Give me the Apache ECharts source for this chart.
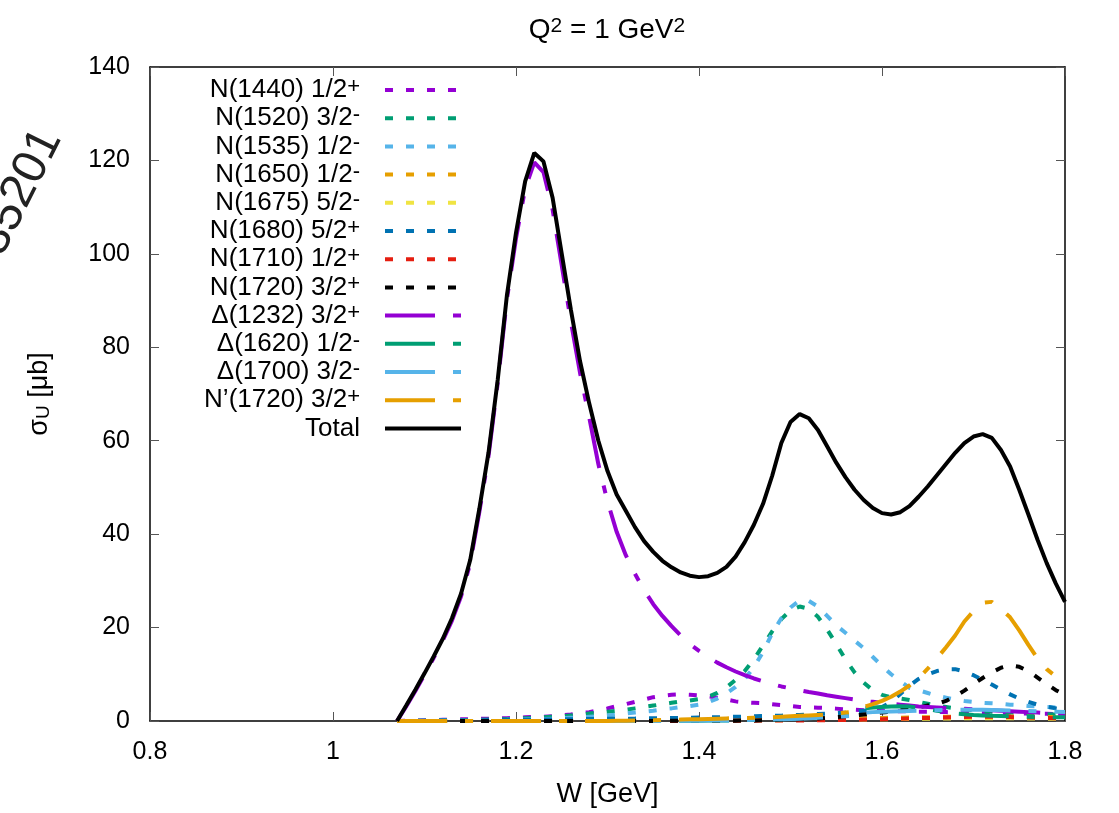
<!DOCTYPE html>
<html>
<head>
<meta charset="utf-8">
<script src="https://cdn.jsdelivr.net/npm/echarts@6/dist/echarts.min.js"></script>
<style>
  html, body { margin: 0; padding: 0; background: #fff; }
  #chart-1 { width: 1119px; height: 813px; }
</style>
</head>
<body>
<div id="chart-1"></div>
<script>
/** data **/
var W = [1.07,1.08,1.09,1.10,1.11,1.12,1.13,1.14,1.15,1.16,
  1.17,1.18,1.19,1.20,1.21,1.22,1.23,1.24,1.25,1.26,
  1.27,1.28,1.29,1.30,1.31,1.32,1.33,1.34,1.35,1.36,
  1.37,1.38,1.39,1.40,1.41,1.42,1.43,1.44,1.45,1.46,
  1.47,1.48,1.49,1.50,1.51,1.52,1.53,1.54,1.55,1.56,
  1.57,1.58,1.59,1.60,1.61,1.62,1.63,1.64,1.65,1.66,
  1.67,1.68,1.69,1.70,1.71,1.72,1.73,1.74,1.75,1.76,
  1.77,1.78,1.79,1.80];

var n1440 = [0,0.05,0.1,0.15,0.2,0.25,0.3,0.35,0.4,0.45,
  0.5,0.55,0.6,0.7,0.8,0.85,0.9,1.0,1.2,1.4,
  1.7,1.9,2.3,2.7,3.2,3.6,4.1,4.6,5.1,5.4,
  5.6,5.7,5.6,5.5,5.3,5.0,4.6,4.2,4.0,3.9,
  3.8,3.6,3.4,3.2,3.0,2.9,2.85,2.8,2.65,2.5,
  2.4,2.3,2.25,2.2,2.15,2.1,2.05,2.0,2.0,1.95,
  1.9,1.85,1.8,1.75,1.7,1.7,1.65,1.65,1.6,1.6,
  1.55,1.55,1.5,1.5];
var n1520 = [0,0.02,0.05,0.08,0.1,0.12,0.15,0.18,0.2,0.25,
  0.3,0.35,0.4,0.5,0.6,0.7,0.8,0.9,1.0,1.2,
  1.4,1.6,1.8,2.0,2.2,2.4,2.7,3.0,3.3,3.6,
  3.9,4.2,4.4,4.7,5.2,6.0,7.2,8.8,10.7,13.2,
  16.2,19.2,21.8,23.7,24.5,24.0,22.3,19.6,16.5,13.2,
  10.4,8.2,6.6,5.6,5.1,4.8,4.5,4.1,3.7,3.3,
  3.0,2.7,2.5,2.3,2.1,2.0,1.9,1.8,1.7,1.6,
  1.5,1.45,1.4,1.35];
var n1535 = [0,0.02,0.04,0.06,0.08,0.1,0.12,0.14,0.16,0.18,
  0.2,0.22,0.25,0.3,0.35,0.4,0.45,0.5,0.6,0.7,
  0.8,0.9,1.0,1.2,1.4,1.6,1.8,2.0,2.2,2.5,
  2.7,3.0,3.2,3.5,4.0,4.8,5.9,7.3,9.0,11.5,
  14.8,18.8,22.0,24.3,25.8,25.7,24.5,22.5,20.5,18.9,
  17.2,15.6,13.7,11.8,10.0,8.5,7.1,6.6,6.0,5.4,
  5.0,4.6,4.3,4.1,3.9,3.8,3.7,3.5,3.4,3.2,
  3.1,3.0,2.9,2.8];
var n1650 = [0,0,0,0,0,0,0,0.05,0.05,0.05,
  0.05,0.1,0.1,0.1,0.1,0.1,0.1,0.15,0.15,0.15,
  0.15,0.2,0.2,0.2,0.2,0.2,0.25,0.25,0.25,0.25,
  0.3,0.3,0.3,0.3,0.35,0.35,0.35,0.35,0.4,0.4,
  0.4,0.4,0.45,0.45,0.45,0.5,0.5,0.5,0.55,0.55,
  0.6,0.6,0.65,0.65,0.7,0.7,0.75,0.8,0.8,0.85,
  0.9,0.9,0.95,1.0,1.0,1.0,1.0,0.95,0.95,0.9,
  0.9,0.85,0.85,0.8];
var n1675 = [0,0,0,0,0,0,0,0,0,0,
  0,0,0,0,0,0,0,0,0,0,
  0,0,0,0,0,0,0.05,0.05,0.05,0.05,
  0.05,0.05,0.05,0.1,0.1,0.1,0.1,0.1,0.1,0.15,
  0.15,0.15,0.15,0.2,0.2,0.2,0.2,0.25,0.25,0.3,
  0.3,0.3,0.35,0.35,0.4,0.4,0.45,0.45,0.5,0.5,
  0.55,0.55,0.6,0.6,0.6,0.6,0.6,0.6,0.55,0.55,
  0.5,0.5,0.5,0.5];
var n1680 = [0,0.02,0.04,0.06,0.08,0.1,0.12,0.14,0.16,0.18,
  0.2,0.22,0.24,0.26,0.28,0.3,0.32,0.34,0.36,0.38,
  0.4,0.42,0.44,0.46,0.48,0.5,0.52,0.55,0.58,0.6,
  0.63,0.66,0.7,0.73,0.76,0.8,0.85,0.9,0.95,1.0,
  1.05,1.1,1.15,1.2,1.3,1.4,1.5,1.6,1.7,1.8,
  2.0,2.2,2.4,3.0,4.0,5.8,7.6,9.0,10.0,10.7,
  11.1,11.1,10.6,9.8,8.8,7.8,6.7,5.7,4.8,4.1,
  3.5,3.1,2.7,2.4];
var n1710 = [0,0,0,0,0,0,0,0,0,0,
  0,0,0,0,0,0,0,0,0,0,
  0,0,0,0,0,0,0,0,0,0,
  0,0,0,0,0,0,0.05,0.05,0.05,0.05,
  0.1,0.1,0.1,0.1,0.1,0.15,0.15,0.15,0.2,0.2,
  0.25,0.3,0.35,0.4,0.45,0.5,0.55,0.6,0.65,0.7,
  0.75,0.8,0.85,0.9,0.9,0.9,0.9,0.85,0.8,0.75,
  0.7,0.65,0.6,0.6];
var n1720 = [0,0,0,0,0,0,0,0,0,0,
  0,0,0,0,0,0,0,0,0,0,
  0,0,0,0,0.02,0.02,0.02,0.02,0.02,0.02,
  0.05,0.05,0.05,0.05,0.05,0.08,0.08,0.08,0.1,0.1,
  0.15,0.2,0.25,0.3,0.35,0.45,0.55,0.7,0.85,1.0,
  1.2,1.4,1.6,1.8,2.0,2.3,2.6,2.9,3.3,3.7,
  4.3,5.3,6.5,7.9,9.2,10.4,11.4,11.9,11.6,10.7,
  9.3,7.9,6.6,5.6];
var d1232 = [0,3.1,6.4,9.9,13.5,17.2,21.5,26.7,33.8,44.8,
  56.8,72.3,90.2,103.3,114,119.6,117.5,109.5,97.5,85.5,
  74.5,65,55,47,40.5,35.5,31.5,28,25,22.5,
  20.3,18.3,16.5,15,13.7,12.5,11.5,10.6,9.8,9.1,
  8.5,7.9,7.4,7,6.6,6.2,5.9,5.5,5.2,4.9,
  4.6,4.3,4.1,3.9,3.7,3.5,3.3,3.1,3.0,2.9,
  2.8,2.7,2.6,2.5,2.4,2.3,2.2,2.1,2.0,1.9,
  1.8,1.7,1.6,1.5];
var d1620 = [0,0,0,0,0,0,0,0,0,0,
  0,0,0,0,0,0,0,0,0,0,
  0,0,0,0,0,0,0.02,0.02,0.02,0.02,
  0.05,0.05,0.05,0.05,0.1,0.1,0.1,0.15,0.2,0.25,
  0.3,0.35,0.4,0.5,0.6,0.7,0.8,0.95,1.1,1.3,
  1.6,2.7,2.9,3.0,3.1,3.15,3.1,2.8,2.5,2.2,
  1.9,1.6,1.45,1.3,1.2,1.1,1.05,1.0,0.95,0.9,
  0.85,0.85,0.8,0.8];
var d1700 = [0,0,0,0,0,0,0,0,0,0,
  0,0,0,0,0,0,0,0,0,0,
  0,0,0,0,0,0,0.02,0.02,0.02,0.02,
  0.05,0.05,0.05,0.05,0.1,0.1,0.1,0.15,0.2,0.25,
  0.3,0.35,0.4,0.45,0.5,0.6,0.7,0.8,0.9,1.0,
  1.2,1.8,1.9,2.0,2.05,2.1,2.15,2.2,2.25,2.3,
  2.35,2.4,2.4,2.4,2.4,2.35,2.3,2.25,2.2,2.15,
  2.1,2.05,2.0,1.95];
var np1720 = [0,0,0,0,0,0,0,0,0,0,
  0,0,0,0,0,0,0,0,0,0,
  0,0,0,0,0.05,0.05,0.1,0.1,0.15,0.2,
  0.25,0.3,0.35,0.4,0.45,0.5,0.55,0.6,0.65,0.7,
  0.75,0.8,0.9,1.0,1.1,1.2,1.3,1.4,1.6,1.8,
  2.0,3.0,3.6,4.3,5.2,6.3,7.6,9.2,11.2,13.4,
  15.8,18.3,21.3,23.5,25.3,25.5,24.0,22.2,19.4,16.3,
  13.4,11.1,9.5,8.2];
var total = [0,3.3,6.7,10.2,13.8,17.6,22,27.3,34.5,45.5,
  57.5,73,91,104.5,115.5,121.6,119.8,112,100,88,
  77,68,60,53.5,48.5,45,41.5,38.5,36.2,34.3,
  32.9,31.8,31.1,30.8,31,31.7,33,35.2,38.3,42,
  46.5,52.5,59.5,64,65.7,64.8,62.3,58.8,55.3,52.2,
  49.5,47.3,45.6,44.5,44.2,44.7,46,48,50.2,52.6,
  55,57.4,59.5,60.9,61.4,60.6,58,54.5,49.5,44.2,
  38.8,33.8,29.4,25.5];

var xTicks = [0.8, 1, 1.2, 1.4, 1.6, 1.8];
var yTicks = [0, 20, 40, 60, 80, 100, 120, 140];
/** end data **/

var FONT = "'Liberation Sans', Arial, sans-serif";
var DOTS = [8, 13];
var DASHDOT = [50, 18, 8, 18];
var NONE = "rgba(0,0,0,0)";

function pairs(ys) {
  return W.map(function (w, i) {
    return [w, ys[i]];
  });
}

function curve(name, ys, color, dash) {
  return {
    name: name,
    type: "line",
    data: pairs(ys),
    symbol: "none",
    showSymbol: false,
    silent: true,
    lineStyle: { color: color, width: 4, type: dash },
    itemStyle: { color: NONE, borderWidth: 0 },
  };
}

var dom = document.getElementById("chart-1");
var Chart1 = echarts.init(dom, null, { renderer: "canvas" });

var option = {
  animation: false,
  backgroundColor: "#fff",
  textStyle: { fontFamily: FONT, color: "#000" },
  grid: { left: 150, right: 54, top: 67, bottom: 92 },
  graphic: [
    {
      type: "text",
      x: 607,
      y: 30,
      style: {
        text: "Q{sup|2} = 1 GeV{sup|2}",
        font: "28px " + FONT,
        fill: "#000",
        align: "center",
        verticalAlign: "middle",
        rich: {
          sup: { fontSize: 21, fontFamily: FONT, lineHeight: 10, verticalAlign: "top", fill: "#000" },
        },
      },
    },
    {
      type: "text",
      x: 20,
      y: 192,
      rotation: 1.107,
      style: {
        text: "35201",
        font: "48px " + FONT,
        fill: "#222",
        align: "center",
        verticalAlign: "middle",
      },
    },
  ],
  legend: {
    orient: "vertical",
    align: "right",
    right: 656,
    top: 76,
    padding: 0,
    itemWidth: 76,
    itemHeight: 14,
    itemGap: 0.2,
    selectedMode: false,
    itemStyle: { color: NONE, borderWidth: 0, opacity: 0 },
    lineStyle: { width: 4 },
    textStyle: {
      fontFamily: FONT,
      fontSize: 26,
      lineHeight: 28,
      color: "#000",
      padding: [0, 20, 0, 0],
      rich: {
        sup: { fontSize: 22, fontFamily: FONT, lineHeight: 12, verticalAlign: "top", color: "#000" },
      },
    },
    formatter: function (name) {
      var m = name.match(/^(.*)([+-])$/);
      return m ? m[1] + "{sup|" + m[2] + "}" : name;
    },
  },
  xAxis: [
    {
      type: "value",
      min: 0.8,
      max: 1.8,
      interval: 0.2,
      name: "W [GeV]",
      nameLocation: "middle",
      nameGap: 60,
      nameTextStyle: { fontSize: 27, fontFamily: FONT, color: "#000" },
      axisLine: { show: true, onZero: false, lineStyle: { color: "#000", width: 1.5 } },
      axisTick: { show: true, inside: true, length: 9, lineStyle: { color: "#555" } },
      axisLabel: { fontSize: 25, color: "#000", margin: 19 },
      splitLine: { show: false },
    },
    {
      type: "value",
      position: "top",
      min: 0.8,
      max: 1.8,
      interval: 0.2,
      axisLine: { show: true, onZero: false, lineStyle: { color: "#000", width: 1.5 } },
      axisTick: { show: true, inside: true, length: 9, lineStyle: { color: "#555" } },
      axisLabel: { show: false },
      splitLine: { show: false },
    },
  ],
  yAxis: [
    {
      type: "value",
      min: 0,
      max: 140,
      interval: 20,
      name: "σ{sub|U} [μb]",
      nameLocation: "middle",
      nameGap: 97,
      nameTextStyle: {
        fontSize: 27,
        fontFamily: FONT,
        color: "#000",
        rich: {
          sub: { fontSize: 19, fontFamily: FONT, lineHeight: 10, verticalAlign: "bottom", color: "#000" },
        },
      },
      axisLine: { show: true, onZero: false, lineStyle: { color: "#000", width: 1.5 } },
      axisTick: { show: true, inside: true, length: 9, lineStyle: { color: "#555" } },
      axisLabel: { fontSize: 25, color: "#000", margin: 20 },
      splitLine: { show: false },
    },
    {
      type: "value",
      position: "right",
      min: 0,
      max: 140,
      interval: 20,
      axisLine: { show: true, onZero: false, lineStyle: { color: "#000", width: 1.5 } },
      axisTick: { show: true, inside: true, length: 9, lineStyle: { color: "#555" } },
      axisLabel: { show: false },
      splitLine: { show: false },
    },
  ],
  series: [
    curve("N(1440) 1/2+", n1440, "#9400D3", DOTS),
    curve("N(1520) 3/2-", n1520, "#009E73", DOTS),
    curve("N(1535) 1/2-", n1535, "#56B4E9", DOTS),
    curve("N(1650) 1/2-", n1650, "#E69F00", DOTS),
    curve("N(1675) 5/2-", n1675, "#F0E442", DOTS),
    curve("N(1680) 5/2+", n1680, "#0072B2", DOTS),
    curve("N(1710) 1/2+", n1710, "#E51E10", DOTS),
    curve("N(1720) 3/2+", n1720, "#000000", DOTS),
    curve("Δ(1232) 3/2+", d1232, "#9400D3", DASHDOT),
    curve("Δ(1620) 1/2-", d1620, "#009E73", DASHDOT),
    curve("Δ(1700) 3/2-", d1700, "#56B4E9", DASHDOT),
    curve("N’(1720) 3/2+", np1720, "#E69F00", DASHDOT),
    curve("Total", total, "#000000", "solid"),
  ],
};

if (option && typeof option === "object") {
  Chart1.setOption(option);
}

window.addEventListener("resize", Chart1.resize);
</script>
</body>
</html>
